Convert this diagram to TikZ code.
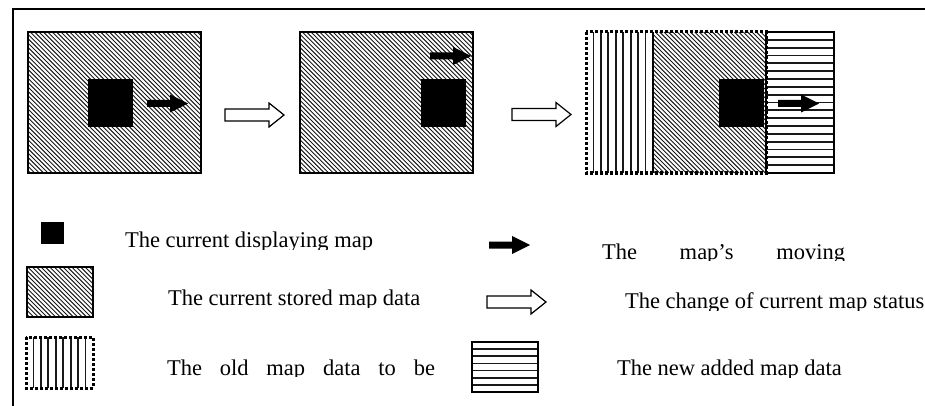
\documentclass[tikz,border=0pt]{standalone}
\usepackage{fontspec}
\setmainfont{Liberation Serif}
\newcommand\myhatch[4]{%
  \begin{scope}
    \clip (#1,#2) rectangle (#3,#4);
    \foreach \i in {0,...,80}
      \draw[hatchline] ({#1-(#4-#2)-2+\i*4.4},#2) -- ++({#4-#2},{#4-#2});
  \end{scope}}
\begin{document}
\begin{tikzpicture}[x=1pt,y=-1pt,
  hatchline/.style={line width=0.95pt,black!90},
  boxline/.style={draw=black,line width=1.3pt,inner sep=0pt,outer sep=0pt,anchor=north west},
  plain/.style={boxline},
  sq/.style={fill=black,inner sep=0pt,outer sep=0pt,anchor=north west},
  hline/.style={line width=1.8pt,black!90},
  vline/.style={line width=1.8pt,black!90},
  dashbox/.style={line width=3pt,dash pattern=on 2.8pt off 2.2pt},
  lbl/.style={font=\fontsize{22.5}{27}\selectfont,inner sep=0pt,outer sep=0pt,anchor=base west},
  blkarrow/.pic={\fill[black] (0,-3.5) -- (23,-3.5) -- (23,-9) -- (41,0) -- (23,9) -- (23,3.5) -- (0,3.5) -- cycle;},
  openarrow/.pic={\draw[line width=1.2pt,fill=white,line join=miter] (0,-6) -- (44,-6) -- (44,-12) -- (59,0) -- (44,12) -- (44,6) -- (0,6) -- cycle;}
]
\useasboundingbox (0,0) rectangle (925,406);
% frame
\draw[line width=2.6pt] (13,406) -- (13,9) -- (925,9);

% ---- panel 1
\myhatch{28}{32}{201}{173}
\node[plain,minimum width=173pt,minimum height=141pt] (p1) at (28,32) {};
\node[sq,minimum width=45pt,minimum height=48pt] (s1) at (88,79) {};
\pic (m1) at (147,103.5) {blkarrow};
\pic (c1) at (225,115) {openarrow};

% ---- panel 2
\myhatch{300}{32}{473}{173}
\node[plain,minimum width=173pt,minimum height=141pt] (p2) at (300,32) {};
\node[sq,minimum width=45pt,minimum height=48pt] (s2) at (421,79) {};
\pic (m2) at (430,56) {blkarrow};
\pic (c2) at (512,114.5) {openarrow};

% ---- panel 3
\myhatch{653}{32}{766}{173}
\foreach \k in {1,...,8} \draw[vline] ({586+7.44*\k},32) -- ({586+7.44*\k},173);
\foreach \k in {1,...,17} \draw[hline] (766,{32+7.83*\k}) -- (834,{32+7.83*\k});
\draw[dashbox] (586,32) rectangle (766,173);
\draw[line width=1.3pt] (653,32) -- (653,173);
\node[plain,minimum width=68pt,minimum height=141pt] (p3n) at (766,32) {};
\node[sq,minimum width=45pt,minimum height=48pt] (s3) at (719,79) {};
\pic (m3) at (778,103.5) {blkarrow};

% ---- legend left
\node[sq,minimum width=23pt,minimum height=22pt] (ls) at (41,222) {};
\begin{scope}
  \clip (110,225) rectangle (400,249.5);
  \node[lbl] (t1) at (125,247.5) {The current displaying map};
\end{scope}

\myhatch{27}{267}{93}{317}
\node[plain,minimum width=66pt,minimum height=50pt] (lh) at (27,267) {};
\begin{scope}
  \clip (150,280) rectangle (440,307);
  \node[lbl] (t2) at (168,305) {The current stored map data};
\end{scope}

\foreach \k in {1,...,8} \draw[vline] ({26+7.44*\k},337) -- ({26+7.44*\k},388);
\draw[dashbox] (26,337) rectangle (93,388);
\begin{scope}
  \clip (150,350) rectangle (450,376.5);
  \node[lbl] (t3) at (167,375) {\hbox to 268pt{The\hfill old\hfill map\hfill data\hfill to\hfill be}};
\end{scope}

% ---- legend right
\pic (lm) at (489,245) {blkarrow};
\begin{scope}
  \clip (590,235) rectangle (870,260.5);
  \node[lbl] (t4) at (602,259) {\hbox to 243pt{The\hfill map’s\hfill moving}};
\end{scope}

\pic (lc) at (487,302) {openarrow};
\begin{scope}
  \clip (610,285) rectangle (925,310.5);
  \node[lbl] (t5) at (625,308.5) {The change of current map status};
\end{scope}

\foreach \k in {1,...,6} \draw[hline] (472,{342+7.14*\k}) -- (538,{342+7.14*\k});
\node[plain,minimum width=66pt,minimum height=50pt] (ln) at (472,342) {};
\begin{scope}
  \clip (600,345) rectangle (870,377);
  \node[lbl] (t6) at (617,375.5) {The new added map data};
\end{scope}
\end{tikzpicture}
\end{document}
